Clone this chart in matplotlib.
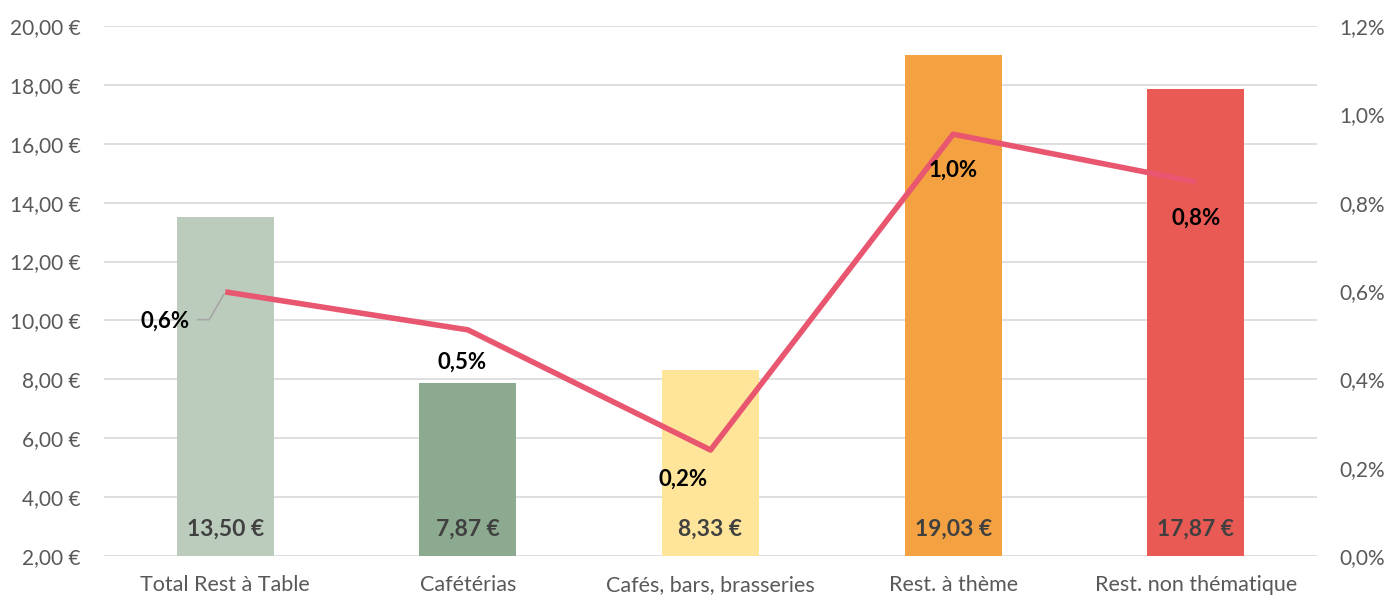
#!/usr/bin/env python3
"""Average ticket per segment (bars) with growth rate (line, right axis)."""

import numpy as np
import matplotlib.pyplot as plt
from matplotlib.ticker import FuncFormatter

plt.rcParams['font.family'] = ['Lato', 'DejaVu Sans']

categories = ['Total Rest à Table', 'Cafétérias', 'Cafés, bars, brasseries',
              'Rest. à thème', 'Rest. non thématique']
ticket = [13.50, 7.87, 8.33, 19.03, 17.87]
growth = [0.598, 0.512, 0.240, 0.955, 0.847]   # percent
bar_colors = ['#BBCCBD', '#8BAA8F', '#FFE599', '#F4A142', '#E85A53']
LINE_COLOR = '#E8566F'
TICK_COLOR = '#595959'
GRID_COLOR = '#D9D9D9'


def euro(v, _=None):
    return f'{v:.2f}'.replace('.', ',') + ' €'


def pct(v, _=None):
    return f'{v:.1f}'.replace('.', ',') + '%'


fig = plt.figure(figsize=(13.9, 5.96), dpi=100)
ax = fig.add_axes([0.0748, 0.0671, 0.8727, 0.8893])
x = np.arange(len(categories))

ax.bar(x, np.array(ticket) - 2, bottom=2, width=0.40, color=bar_colors, zorder=2)
ax.set_ylim(2, 20)
ax.set_xlim(-0.5, len(categories) - 0.5)
ax.set_yticks(np.arange(2, 21, 2))
ax.yaxis.set_major_formatter(FuncFormatter(euro))
ax.grid(axis='y', color=GRID_COLOR, lw=1.2, zorder=0)
ax.set_xticks(x)
ax.set_xticklabels(categories)
for s in ax.spines.values():
    s.set_visible(False)
ax.tick_params(axis='both', length=0, labelsize=15, colors=TICK_COLOR)
ax.tick_params(axis='y', pad=17)
ax.tick_params(axis='x', labelsize=15.5, pad=14)

for xi, v in zip(x, ticket):
    ax.text(xi, 2.9, euro(v), ha='center', va='center', fontsize=16.5,
            fontweight='bold', color='#404040', zorder=3)

ax2 = ax.twinx()
ax2.set_ylim(0, 1.2)
ax2.set_yticks(np.arange(0, 1.21, 0.2))
ax2.yaxis.set_major_formatter(FuncFormatter(pct))
for s in ax2.spines.values():
    s.set_visible(False)
ax2.tick_params(axis='y', length=0, labelsize=15, colors=TICK_COLOR, pad=16)
ax2.plot(x, growth, color=LINE_COLOR, lw=4, solid_capstyle='butt', zorder=4)

# data labels for the line (offsets in points)
offsets = [(-43, -21), (-4, -23), (-20, -21), (0, -26), (0, -26)]
for i, (xi, g) in enumerate(zip(x, growth)):
    dx, dy = offsets[i]
    ax2.annotate(pct(round(g, 1)), (xi, g), xytext=(dx, dy),
                 textcoords='offset points', ha='center', va='center',
                 fontsize=16, fontweight='bold', color='black', zorder=5)

# leader line for the first label
ax2.annotate('', (x[0], growth[0]), xytext=(-20, -20), textcoords='offset points',
             arrowprops=dict(arrowstyle='-', color='#A6A6A6', lw=1.2,
                             connectionstyle='angle,angleA=0,angleB=60,rad=0',
                             shrinkA=0, shrinkB=2), zorder=3)

fig.savefig('out.png', dpi=100)
